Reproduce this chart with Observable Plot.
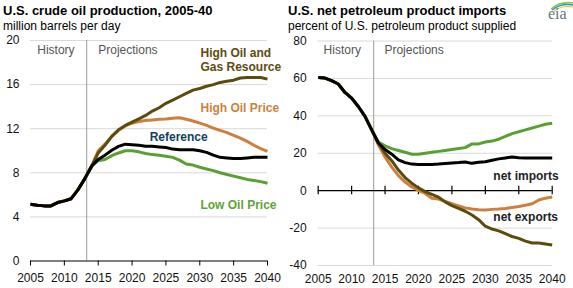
<!DOCTYPE html>
<html>
<head>
<meta charset="utf-8">
<script src="https://cdn.jsdelivr.net/npm/d3@7"></script>
<script src="https://cdn.jsdelivr.net/npm/@observablehq/plot@0.6"></script>
<style>
  body { margin: 0; background: #fff; }
  #wrap { position: relative; width: 573px; height: 288px; font-family: "Liberation Sans", Arial, sans-serif; color: #000; overflow: hidden; }
  .title { position: absolute; font-size: 13px; font-weight: bold; line-height: 15px; white-space: nowrap; }
  .sub { position: absolute; font-size: 12px; line-height: 14px; white-space: nowrap; }
  .panel { position: absolute; top: 34px; }
  #logo { position: absolute; left: 546px; top: 0px; }
</style>
</head>
<body>
<div id="wrap">
  <div class="title" style="left:3px;top:3px">U.S. crude oil production, 2005-40</div>
  <div class="sub" style="left:3px;top:19px">million barrels per day</div>
  <div class="title" style="left:288px;top:3px">U.S. net petroleum product imports</div>
  <div class="sub" style="left:288px;top:19px">percent of U.S. petroleum product supplied</div>
  <div id="logo">
    <svg width="27" height="22" viewBox="0 0 27 22">
      <path d="M5 9 Q14 1 27 3" fill="none" stroke="#8dc63f" stroke-width="1.6"/>
      <path d="M6 10 Q15 3 27 5" fill="none" stroke="#1f9ad6" stroke-width="1.4"/>
      <path d="M8 11 Q16 5 27 7" fill="none" stroke="#f2c530" stroke-width="1.2"/>
      <text x="2" y="19" font-family="Liberation Serif, serif" font-size="16" fill="#5f7584">eia</text>
    </svg>
  </div>
  <div id="left" class="panel" style="left:0px"></div>
  <div id="right" class="panel" style="left:287px"></div>
</div>
<script>
// ---------- data ----------
const histYears = [2005, 2006, 2007, 2008, 2009, 2010, 2011, 2012, 2013];
const projYears = [2014, 2015, 2016, 2017, 2018, 2019, 2020, 2021, 2022, 2023, 2024, 2025, 2026, 2027,
  2028, 2029, 2030, 2031, 2032, 2033, 2034, 2035, 2036, 2037, 2038, 2039, 2040];
const xTickYears = [2005, 2010, 2015, 2020, 2025, 2030, 2035, 2040];
const dividerYear = [2013.3];

// Left: crude oil production (million barrels per day)
const prodTicks = [0, 4, 8, 12, 16, 20];
const prodHistory = [5.15, 5.05, 5.0, 5.0, 5.3, 5.45, 5.65, 6.45, 7.45];
const prodHighResource = [8.5, 9.8, 10.5, 11.3, 11.9, 12.3, 12.6, 12.9, 13.2, 13.6, 13.9, 14.3, 14.6, 14.9,
  15.2, 15.5, 15.65, 15.85, 16.0, 16.2, 16.3, 16.4, 16.6, 16.65, 16.65, 16.65, 16.5];
const prodHighPrice = [8.6, 10.0, 10.6, 11.3, 11.85, 12.25, 12.5, 12.65, 12.75, 12.8, 12.85, 12.87, 12.95, 13.0,
  12.85, 12.7, 12.5, 12.3, 12.05, 11.85, 11.65, 11.4, 11.15, 10.85, 10.5, 10.2, 9.95];
const prodReference = [8.6, 9.2, 9.6, 10.05, 10.4, 10.6, 10.55, 10.5, 10.4, 10.4, 10.35, 10.3, 10.15, 10.1,
  10.1, 10.1, 10.0, 9.85, 9.6, 9.4, 9.35, 9.3, 9.3, 9.35, 9.4, 9.4, 9.4];
const prodLowPrice = [8.6, 9.1, 9.2, 9.55, 9.8, 10.0, 10.0, 9.9, 9.75, 9.65, 9.6, 9.5, 9.4, 9.15,
  8.8, 8.7, 8.5, 8.35, 8.2, 8.0, 7.85, 7.7, 7.55, 7.4, 7.3, 7.2, 7.05];

// Right: net petroleum product imports (percent of product supplied)
const impTicks = [-40, -20, 0, 20, 40, 60, 80];
const impHistory = [60.5, 60.2, 58.8, 57.0, 52.5, 49.5, 45.0, 39.7, 32.5];
const impHighResource = [25.5, 20, 16, 11, 7, 4, 1.5, -0.5, -2, -3.5, -6, -8, -9.5, -11,
  -13, -15.5, -19, -20.5, -21.5, -23, -24.5, -25.5, -27, -28, -28, -28.5, -29];
const impHighPrice = [24.5, 18, 12.6, 8, 4.6, 2, 0.2, -1.5, -4, -4.5, -5.8, -7, -8.2, -9.2,
  -9.8, -10.2, -10.3, -10, -9.8, -9.5, -9, -8.5, -7.8, -7, -5, -4, -3.4];
const impReference = [25.5, 22, 19.5, 16.5, 15, 14.2, 14, 14, 14, 14.2, 14.5, 14.8, 15, 15.3,
  14.6, 15.2, 15.5, 16.3, 17, 17.5, 18, 17.6, 17.5, 17.5, 17.5, 17.5, 17.5];
const impLowPrice = [26, 24, 22.5, 21.5, 20.5, 19.5, 19.5, 20, 20.5, 21, 21.5, 22, 22.5, 23,
  25, 25, 26, 26.5, 27.5, 29, 30.5, 31.5, 32.5, 33.5, 34.5, 35.5, 36];

// label texts
const labelHistory = "History";
const labelProjections = "Projections";
const labelHighResource = "High Oil and\nGas Resource";
const labelHighPrice = "High Oil Price";
const labelReference = "Reference";
const labelLowPrice = "Low Oil Price";
const labelNetImports = "net imports";
const labelNetExports = "net exports";

// ---------- styles ----------
const C = {
  highRes: "#5c4b0e",
  highPrice: "#cd7f3d",
  ref: "#000000",
  low: "#5b9f34",
  refLabel: "#123f5e",
  lowLabel: "#5fa333",
  grid: "#d9d9d9",
  divider: "#9a9a9a",
  hist: "#555555"
};
const FONT = "'Liberation Sans', Arial, sans-serif";

function series(hist, proj) {
  return histYears.map((y, i) => ({year: y, value: hist[i]}))
    .concat(projYears.map((y, i) => ({year: y, value: proj[i]})));
}
function line(data, stroke) {
  return Plot.line(data, {x: "year", y: "value", stroke, strokeWidth: 3, strokeLinejoin: "round", strokeLinecap: "butt"});
}
function label(obj, opts) {
  return Plot.text([obj], Object.assign({x: "x", y: "y", text: "t", textAnchor: "start", fontSize: 12, fontWeight: "bold", lineHeight: 1.17}, opts));
}

// ---------- left panel ----------
const left = Plot.plot({
  width: 287, height: 254,
  marginLeft: 30, marginRight: 20, marginTop: 6, marginBottom: 27.5,
  x: {domain: [2005, 2040]},
  y: {domain: [0, 20]},
  style: {fontFamily: FONT, fontSize: "12px", color: "#111", background: "transparent", overflow: "visible"},
  marks: [
    Plot.ruleY(prodTicks.filter(d => d !== 0), {stroke: C.grid, strokeWidth: 1}),
    Plot.ruleX(dividerYear, {stroke: C.divider, strokeWidth: 1}),
    Plot.axisY({ticks: prodTicks, tickSize: 0, tickPadding: 11, tickFormat: d => String(d), label: null, fontSize: 12}),
    Plot.axisX({ticks: xTickYears, tickSize: 5, tickPadding: 7, tickFormat: d => String(d), label: null, fontSize: 12, stroke: "#000"}),
    Plot.ruleY([0], {stroke: "#000", strokeWidth: 1.2}),
    line(series(prodHistory, prodLowPrice), C.low),
    line(series(prodHistory, prodHighPrice), C.highPrice),
    line(series(prodHistory, prodHighResource), C.highRes),
    line(series(prodHistory, prodReference), C.ref),
    label({x: 2006.0, y: 19.2, t: labelHistory}, {fill: C.hist, fontWeight: "normal"}),
    label({x: 2015.0, y: 19.2, t: labelProjections}, {fill: C.hist, fontWeight: "normal"}),
    label({x: 2030.1, y: 18.25, t: labelHighResource}, {fill: C.highRes}),
    label({x: 2030.1, y: 13.9, t: labelHighPrice}, {fill: C.highPrice}),
    label({x: 2022.6, y: 11.25, t: labelReference}, {fill: C.refLabel}),
    label({x: 2030.1, y: 5.1, t: labelLowPrice}, {fill: C.lowLabel})
  ]
});
document.getElementById("left").appendChild(left);

// ---------- right panel ----------
const right = Plot.plot({
  width: 286, height: 254,
  marginLeft: 30.7, marginRight: 21.3, marginTop: 6.5, marginBottom: 23,
  x: {domain: [2005, 2040]},
  y: {domain: [-40, 80]},
  style: {fontFamily: FONT, fontSize: "12px", color: "#111", background: "transparent", overflow: "visible"},
  marks: [
    Plot.ruleY(impTicks.filter(d => d !== 0), {stroke: C.grid, strokeWidth: 1}),
    Plot.ruleX(dividerYear, {stroke: C.divider, strokeWidth: 1}),
    Plot.axisY({ticks: impTicks, tickSize: 0, tickPadding: 11.5, tickFormat: d => String(d), label: null, fontSize: 12}),
    Plot.axisX({ticks: xTickYears, tickSize: 0, tickPadding: 9, tickFormat: d => String(d), label: null, fontSize: 12}),
    Plot.ruleY([0], {stroke: "#000", strokeWidth: 1.2}),
    Plot.ruleX(xTickYears, {x: d => d, y1: -2.2, y2: 2.4, stroke: "#000", strokeWidth: 1.2}),
    line(series(impHistory, impHighPrice), C.highPrice),
    line(series(impHistory, impHighResource), C.highRes),
    line(series(impHistory, impLowPrice), C.low),
    line(series(impHistory, impReference), C.ref),
    label({x: 2005.8, y: 75.6, t: labelHistory}, {fill: C.hist, fontWeight: "normal"}),
    label({x: 2014.9, y: 75.6, t: labelProjections}, {fill: C.hist, fontWeight: "normal"}),
    label({x: 2031.2, y: 8.2, t: labelNetImports}, {fill: "#222"}),
    label({x: 2031.2, y: -13.6, t: labelNetExports}, {fill: "#222"})
  ]
});
document.getElementById("right").appendChild(right);
</script>
</body>
</html>
